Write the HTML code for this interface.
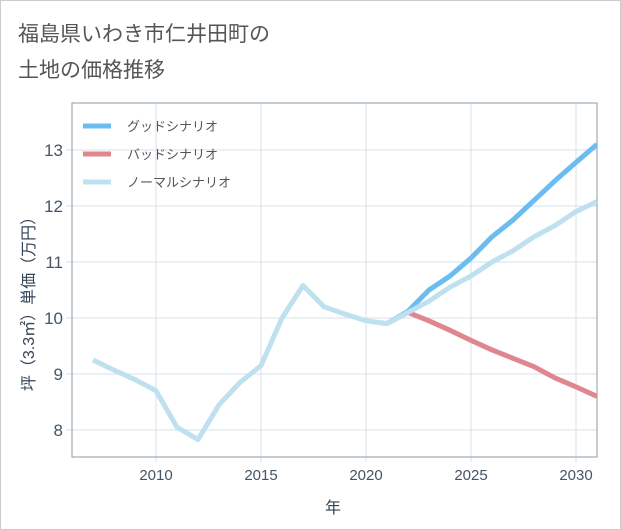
<!DOCTYPE html>
<html><head><meta charset="utf-8"><style>
body{margin:0;background:#fff;}
.wrap{width:619px;height:528px;border:1px solid #ccc;position:relative;font-family:"Liberation Sans","Noto Sans CJK JP",sans-serif;}
svg text{font-family:"Liberation Sans","Noto Sans CJK JP",sans-serif;}
</style></head><body>
<div class="wrap">
<svg id="chart" width="621" height="530" style="position:absolute;left:-1px;top:-1px">
<text x="18" y="41" font-size="21" fill="#555">福島県いわき市仁井田町の</text>
<text x="18" y="77" font-size="21" fill="#555">土地の価格推移</text>
<g id="grid"></g>
<rect x="72" y="103" width="525" height="354" fill="none" stroke="#8a9aa8" stroke-width="1"/>
<g id="series"></g>
<g id="axes"></g>
<text transform="translate(34,300) rotate(-90)" text-anchor="middle" font-size="16" fill="#345">坪（3.3㎡）単価（万円）</text>
<text x="333" y="513" text-anchor="middle" font-size="16" fill="#345">年</text>
<g>
<line x1="83" y1="126" x2="111" y2="126" stroke="#6bbcf0" stroke-width="5"/>
<text x="127" y="131" font-size="13" fill="#555">グッドシナリオ</text>
<line x1="83" y1="154" x2="111" y2="154" stroke="#e0868e" stroke-width="5"/>
<text x="127" y="159" font-size="13" fill="#555">バッドシナリオ</text>
<line x1="83" y1="182" x2="111" y2="182" stroke="#bfe0ef" stroke-width="5"/>
<text x="127" y="187" font-size="13" fill="#555">ノーマルシナリオ</text>
</g>
</svg>
</div>
<script>
const normalYears=[2007,2008,2009,2010,2011,2012,2013,2014,2015,2016,2017,2018,2019,2020,2021,2022,2023,2024,2025,2026,2027,2028,2029,2030,2031];
const normalValues=[9.25,9.07,8.9,8.7,8.05,7.83,8.45,8.85,9.15,10.0,10.58,10.2,10.07,9.95,9.9,10.1,10.3,10.55,10.75,11.0,11.2,11.45,11.65,11.9,12.08];
const scenarioYears=[2021,2022,2023,2024,2025,2026,2027,2028,2029,2030,2031];
const goodValues=[9.9,10.12,10.5,10.75,11.07,11.45,11.75,12.1,12.45,12.78,13.1];
const badValues=[9.9,10.1,9.95,9.78,9.6,9.43,9.28,9.13,8.93,8.77,8.6];
const xTicks=[2010,2015,2020,2025,2030];
const yTicks=[8,9,10,11,12,13];
const NS="http://www.w3.org/2000/svg";
const x=v=>156+(v-2010)*21;
const y=v=>318-(v-10)*56;
const grid=document.getElementById('grid'),axes=document.getElementById('axes'),ser=document.getElementById('series');
function mk(tag,attrs,parent){const e=document.createElementNS(NS,tag);for(const k in attrs)e.setAttribute(k,attrs[k]);parent.appendChild(e);return e;}
xTicks.forEach(t=>{
 const l=mk('line',{x1:x(t),x2:x(t),y1:103,y2:462,stroke:'#d5e0ea','stroke-width':1},grid);
 
 
 const tx=mk('text',{x:x(t),y:480,'text-anchor':'middle','font-size':15,fill:'#456'},axes);
 tx.textContent=t;
 
 
});
yTicks.forEach(t=>{
 const l=mk('line',{x1:66,x2:597,y1:y(t),y2:y(t),stroke:'#d5e0ea','stroke-width':1},grid);
 
 
 const tx=mk('text',{x:63,y:y(t)+6,'text-anchor':'end','font-size':17,fill:'#456'},axes);
 tx.textContent=t;
 
 
});
function line(xs,vs,color,name){
 const p=mk('polyline',{points:xs.map((a,i)=>x(a)+','+y(vs[i])).join(' '),fill:'none',stroke:color,'stroke-width':5,'stroke-linejoin':'round'},ser);
 
 
}
const cp=mk('clipPath',{id:'clip'},ser);mk('rect',{x:72,y:103,width:525,height:354},cp);
ser.setAttribute('clip-path','url(#clip)');
line(scenarioYears,badValues,'#e0868e','bad-scenario-line');
line(scenarioYears,goodValues,'#6bbcf0','good-scenario-line');
line(normalYears,normalValues,'#bfe0ef','normal-scenario-line');
</script>
</body></html>
